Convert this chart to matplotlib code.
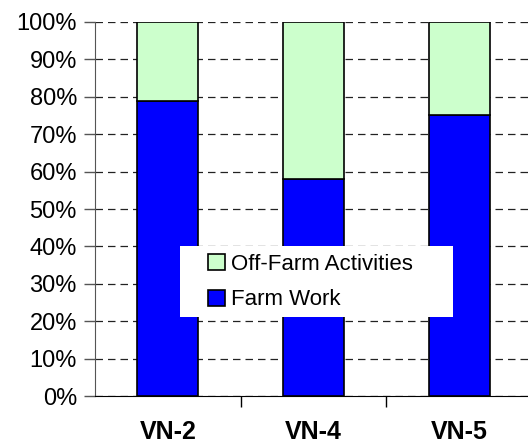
import matplotlib
matplotlib.use("Agg")
import matplotlib.pyplot as plt
import numpy as np
from matplotlib.ticker import FuncFormatter
from matplotlib.patches import Rectangle

plt.rcParams['font.family'] = ['Liberation Sans', 'DejaVu Sans']

villages = ["VN-2", "VN-4", "VN-5"]
farm_work = [79, 58, 75]
off_farm = [21, 42, 25]

x = np.arange(len(villages))

fig = plt.figure(figsize=(5.28, 4.44), dpi=100)
ax = fig.add_axes([95 / 528, 48 / 444, 437 / 528, 374 / 444])

b1 = ax.bar(x, farm_work, width=0.42, color="#0000ff", edgecolor="black", linewidth=1.2, zorder=3)
b2 = ax.bar(x, off_farm, bottom=farm_work, width=0.42, color="#ccffcc", edgecolor="black", linewidth=1.2, zorder=3)

ax.set_xlim(-0.5, 2.5)
ax.set_ylim(0, 100)
ax.set_yticks(np.arange(0, 101, 10))
ax.yaxis.set_major_formatter(FuncFormatter(lambda v, p: f"{int(v)}%"))
ax.tick_params(axis="y", labelsize=17, length=8, width=1, color="#555555", pad=5)

ax.set_xticks(x)
ax.set_xticklabels(villages, fontsize=18, fontweight="bold")
ax.set_xticks([0.5, 1.5], minor=True)
ax.tick_params(axis="x", which="major", length=0, pad=17)
ax.tick_params(axis="x", which="minor", length=8, width=1, color="black")

ax.yaxis.grid(True, linestyle=(0, (6, 4)), color="#222222", linewidth=0.9, zorder=0)
ax.set_axisbelow(True)

for s in ["top", "right"]:
    ax.spines[s].set_visible(False)
ax.spines["left"].set_color("#555555")
ax.spines["bottom"].set_color("black")

# white box behind the legend
fig.patches.append(Rectangle((180 / 528, 1 - 317 / 444), 273 / 528, 71 / 444,
                             transform=fig.transFigure, facecolor="white",
                             edgecolor="none", zorder=5))

leg = fig.legend([b2, b1], ["Off-Farm Activities", "Farm Work"],
                 loc="upper left", bbox_to_anchor=(208 / 528, 1 - 254 / 444),
                 frameon=False, fontsize=16, handlelength=0.75, handleheight=0.75,
                 handletextpad=0.3, borderpad=0, labelspacing=0.65, borderaxespad=0)
leg.set_zorder(6)

fig.savefig("out.png", dpi=100)
